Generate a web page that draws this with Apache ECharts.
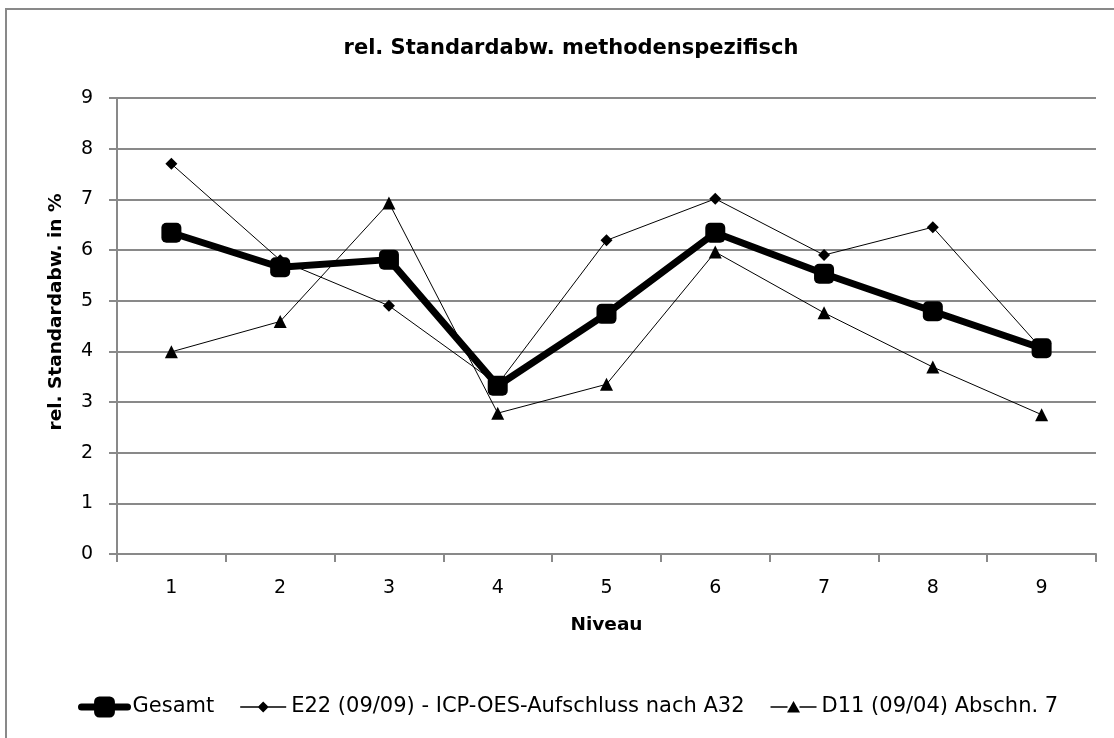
<!DOCTYPE html>
<html>
<head>
<meta charset="utf-8">
<script src="https://cdn.jsdelivr.net/npm/echarts@6/dist/echarts.min.js"></script>
<style>
  html, body { margin: 0; padding: 0; background: #fff; }
  #chart { width: 1114px; height: 738px; }
</style>
</head>
<body>
<div id="chart"></div>
<script>
var niveaus = ['1', '2', '3', '4', '5', '6', '7', '8', '9'];
var gesamt = [6.34, 5.66, 5.81, 3.32, 4.74, 6.34, 5.53, 4.79, 4.06];
var e22 = [7.70, 5.80, 4.90, 3.35, 6.19, 7.01, 5.90, 6.45, 4.05];
var d11 = [3.99, 4.59, 6.93, 2.78, 3.35, 5.96, 4.76, 3.69, 2.75];
var yTicks = [0, 1, 2, 3, 4, 5, 6, 7, 8, 9];

var fnt = '"DejaVu Sans", "Open Sans", sans-serif';
var grau = '#898989';

// legend icons: thin line with a small marker (box 46x26)
var iconRaute = 'path://M0,0L0.01,0M0,26L0.01,26M0,12.3L18,12.3L18,13.7L0,13.7ZM23,7.5L28.5,13L23,18.5L17.5,13ZM28,12.3L46,12.3L46,13.7L28,13.7Z';
var iconDreieck = 'path://M0,0L0.01,0M0,26L0.01,26M0,12.3L17,12.3L17,13.7L0,13.7ZM23,7L29.5,18.5L16.5,18.5ZM29,12.3L46,12.3L46,13.7L29,13.7Z';

var myChart = echarts.init(document.getElementById('chart'));

var option = {
	backgroundColor: '#fff',
	animation: false,
	textStyle: { fontFamily: fnt, color: '#000' },
	title: {
		text: 'rel. Standardabw. methodenspezifisch',
		left: 566,
		top: 33,
		textAlign: 'center',
		textStyle: { fontFamily: fnt, fontSize: 21, fontWeight: 'bold', color: '#000' }
	},
	graphic: [{
		type: 'polyline',
		shape: { points: [[6, 738], [6, 9], [1114, 9]] },
		style: { stroke: grau, lineWidth: 2, fill: null }
	}],
	legend: {
		left: 73,
		top: 689,
		itemWidth: 46,
		itemHeight: 26,
		itemGap: 26,
		textStyle: { fontFamily: fnt, fontSize: 21, color: '#000' },
		data: [
			{ name: 'Gesamt', lineStyle: { width: 7, cap: 'round' } },
			{ name: 'E22 (09/09) - ICP-OES-Aufschluss nach A32', icon: iconRaute, itemStyle: { color: '#000', borderWidth: 0 } },
			{ name: 'D11 (09/04) Abschn. 7', icon: iconDreieck, itemStyle: { color: '#000', borderWidth: 0 } }
		]
	},
	grid: { left: 117, right: 18, top: 98, bottom: 184 },
	xAxis: {
		type: 'category',
		data: niveaus,
		boundaryGap: true,
		name: 'Niveau',
		nameLocation: 'middle',
		nameGap: 62,
		nameTextStyle: { fontFamily: fnt, fontSize: 18.5, fontWeight: 'bold', color: '#000' },
		axisLine: { lineStyle: { color: grau, width: 2 } },
		axisTick: { show: true, length: 8, lineStyle: { color: grau, width: 2 } },
		axisLabel: { margin: 25, fontFamily: fnt, fontSize: 19, color: '#000' }
	},
	yAxis: {
		type: 'value',
		min: yTicks[0],
		max: yTicks[yTicks.length - 1],
		interval: 1,
		name: 'rel. Standardabw. in %',
		nameLocation: 'middle',
		nameGap: 51,
		nameTextStyle: { fontFamily: fnt, fontSize: 18.5, fontWeight: 'bold', color: '#000', padding: [0, 0, 0, 28] },
		axisLine: { show: true, lineStyle: { color: grau, width: 2 } },
		axisTick: { show: true, length: 8, lineStyle: { color: grau, width: 2 } },
		axisLabel: { margin: 24, fontFamily: fnt, fontSize: 19, color: '#000' },
		splitLine: { show: true, lineStyle: { color: grau, width: 2 } }
	},
	series: [
		{
			name: 'Gesamt',
			type: 'line',
			data: gesamt,
			symbol: 'roundRect',
			symbolSize: 20,
			z: 5,
			itemStyle: { color: '#000' },
			lineStyle: { color: '#000', width: 7 }
		},
		{
			name: 'E22 (09/09) - ICP-OES-Aufschluss nach A32',
			type: 'line',
			data: e22,
			symbol: 'diamond',
			symbolSize: 12,
			z: 3,
			itemStyle: { color: '#000' },
			lineStyle: { color: '#000', width: 1 }
		},
		{
			name: 'D11 (09/04) Abschn. 7',
			type: 'line',
			data: d11,
			symbol: 'triangle',
			symbolSize: 13,
			z: 3,
			itemStyle: { color: '#000' },
			lineStyle: { color: '#000', width: 1 }
		}
	]
};

myChart.setOption(option);
</script>
</body>
</html>
